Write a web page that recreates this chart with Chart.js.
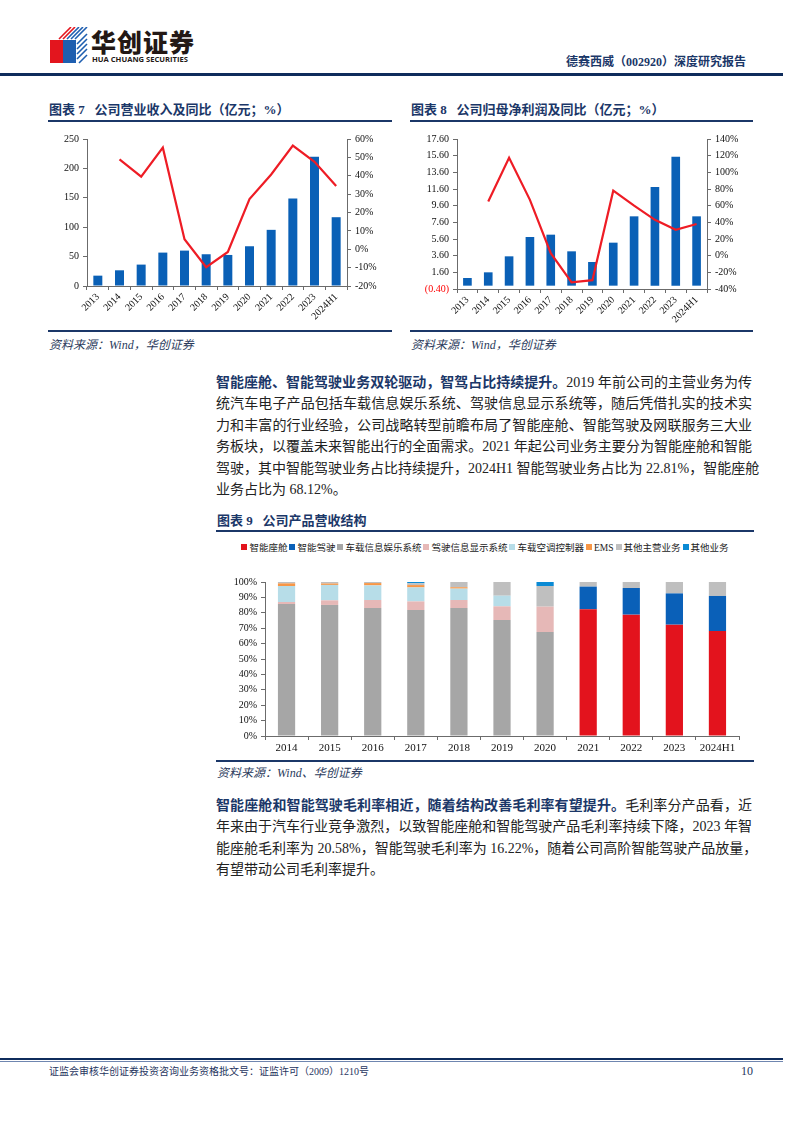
<!DOCTYPE html>
<html>
<head>
<meta charset="utf-8">
<script src="https://cdn.jsdelivr.net/npm/chart.js@4.4.1/dist/chart.umd.min.js"></script>
<style>
  html, body { margin: 0; padding: 0; background: #fff; }
  body { width: 794px; height: 1123px; position: relative; overflow: hidden;
         font-family: "Liberation Serif", "Noto Sans CJK SC", serif; color: #222; }
  .abs { position: absolute; }
  .navy { color: #1b3768; }
  .rule { position: absolute; background: #1b3768; }
  .ctitle { position: absolute; font-size: 13px; font-weight: bold; color: #1b3768; line-height: 16px;
            white-space: nowrap; font-family: "Liberation Serif", "Noto Sans CJK SC", serif; }
  .src { position: absolute; font-size: 12px; font-style: italic; color: #2b3b5c; line-height: 14px; white-space: nowrap; }
  .para { position: absolute; left: 216px; width: 536px; font-size: 14px; line-height: 21.4px; color: #222; }
  .para div { white-space: nowrap; text-align: justify; text-align-last: justify; }
  .para div.last { text-align-last: left; }
  .para b { color: #1b3768; }
  canvas { position: absolute; }
  #legend9 { position: absolute; left: 215px; top: 541px; width: 540px; text-align: center; font-size: 9.5px;
             line-height: 14px; white-space: nowrap; color: #222; }
  #legend9 span.it { margin: 0 1px; }
  #legend9 i { display: inline-block; width: 6px; height: 6px; margin-right: 2px; vertical-align: 1px; }
</style>
</head>
<body>

<!-- header -->
<svg class="abs" style="left:49px;top:27px" width="40" height="37" viewBox="0 0 40 37">
  <rect x="1" y="13" width="13" height="23" fill="#e3151e"/>
  <rect x="14" y="13" width="13" height="23" fill="#1f5fb0"/>
  <g stroke-width="1.6">
    <line x1="10" y1="12" x2="22" y2="0" stroke="#e3151e"/>
    <line x1="14" y1="12" x2="26" y2="0" stroke="#e3151e"/>
    <line x1="18" y1="12" x2="30" y2="0" stroke="#1f5fb0"/>
    <line x1="22" y1="12" x2="34" y2="0" stroke="#1f5fb0"/>
    <line x1="26" y1="12" x2="38" y2="0" stroke="#1f5fb0"/>
    <line x1="28" y1="17" x2="38" y2="7" stroke="#1f5fb0"/>
    <line x1="28" y1="22" x2="38" y2="12" stroke="#1f5fb0"/>
    <line x1="28" y1="27" x2="38" y2="17" stroke="#1f5fb0"/>
    <line x1="28" y1="32" x2="38" y2="22" stroke="#1f5fb0"/>
    <line x1="30" y1="36" x2="38" y2="28" stroke="#1f5fb0"/>
  </g>
</svg>
<div class="abs" style="left:91px;top:26px;font-size:25px;font-weight:900;color:#231815;font-family:'Noto Sans CJK SC';letter-spacing:1px;line-height:30px">华创证券</div>
<div class="abs" style="left:92px;top:55px;font-size:7.6px;font-weight:bold;color:#231815;font-family:'Open Sans','Liberation Sans',sans-serif;line-height:9px">HUA CHUANG SECURITIES</div>
<div class="abs navy" style="right:48px;top:54px;font-size:12px;font-weight:bold;line-height:16px;white-space:nowrap">德赛西威（002920）深度研究报告</div>
<div class="rule" style="left:0;top:73px;width:783px;height:3px;background:#0f2c5c"></div>

<!-- chart 7 -->
<div class="ctitle" style="left:49px;top:102px">图表 7&nbsp;&nbsp;&nbsp;公司营业收入及同比（亿元；%）</div>
<div class="rule" style="left:48px;top:120px;width:344px;height:2px"></div>
<canvas id="c7" width="350" height="205" style="left:44px;top:125px;width:350px;height:205px"></canvas>
<div class="rule" style="left:48px;top:330px;width:344px;height:2px"></div>
<div class="src" style="left:49px;top:338px">资料来源：Wind，华创证券</div>

<!-- chart 8 -->
<div class="ctitle" style="left:411px;top:102px">图表 8&nbsp;&nbsp;&nbsp;公司归母净利润及同比（亿元；%）</div>
<div class="rule" style="left:410px;top:120px;width:343px;height:2px"></div>
<canvas id="c8" width="350" height="205" style="left:405px;top:125px;width:350px;height:205px"></canvas>
<div class="rule" style="left:410px;top:330px;width:343px;height:2px"></div>
<div class="src" style="left:411px;top:338px">资料来源：Wind，华创证券</div>

<!-- paragraph 1 -->
<div class="para" style="top:372px">
  <div><b>智能座舱、智能驾驶业务双轮驱动，智驾占比持续提升。</b>2019 年前公司的主营业务为传</div>
  <div>统汽车电子产品包括车载信息娱乐系统、驾驶信息显示系统等，随后凭借扎实的技术实</div>
  <div>力和丰富的行业经验，公司战略转型前瞻布局了智能座舱、智能驾驶及网联服务三大业</div>
  <div>务板块，以覆盖未来智能出行的全面需求。2021 年起公司业务主要分为智能座舱和智能</div>
  <div>驾驶，其中智能驾驶业务占比持续提升，2024H1 智能驾驶业务占比为 22.81%，智能座舱</div>
  <div class="last">业务占比为 68.12%。</div>
</div>

<!-- chart 9 -->
<div class="ctitle" style="left:217px;top:513px">图表 9&nbsp;&nbsp;&nbsp;公司产品营收结构</div>
<div class="rule" style="left:216px;top:530px;width:538px;height:2px"></div>
<div id="legend9"></div>
<canvas id="c9" width="540" height="188" style="left:215px;top:572px;width:540px;height:188px"></canvas>
<div class="rule" style="left:216px;top:760px;width:538px;height:1.5px"></div>
<div class="src" style="left:217px;top:766px">资料来源：Wind、华创证券</div>

<!-- paragraph 2 -->
<div class="para" style="top:795px">
  <div><b>智能座舱和智能驾驶毛利率相近，随着结构改善毛利率有望提升。</b>毛利率分产品看，近</div>
  <div>年来由于汽车行业竞争激烈，以致智能座舱和智能驾驶产品毛利率持续下降，2023 年智</div>
  <div>能座舱毛利率为 20.58%，智能驾驶毛利率为 16.22%，随着公司高阶智能驾驶产品放量，</div>
  <div class="last">有望带动公司毛利率提升。</div>
</div>

<!-- footer -->
<div class="rule" style="left:0;top:1058px;width:783px;height:2px;background:#0f2c5c"></div>
<div class="rule" style="left:0;top:1061px;width:783px;height:1px;background:#6f86b0"></div>
<div class="abs navy" style="left:49px;top:1065px;font-size:10px;line-height:14px;white-space:nowrap;color:#1f3560">证监会审核华创证券投资咨询业务资格批文号：证监许可（2009）1210号</div>
<div class="abs" style="left:741px;top:1064px;font-size:12px;line-height:14px;color:#1f3560">10</div>

<script>
// ---- data: 图表7 营业收入(亿元) 及同比(%)
const years = ['2013', '2014', '2015', '2016', '2017', '2018', '2019', '2020', '2021', '2022', '2023', '2024H1'];
const revenue = [17.6, 26.7, 36.4, 56.8, 60.2, 54.0, 52.8, 67.6, 95.5, 148.9, 219.9, 117.0];
const revenueYoY = [null, 48.9, 39.5, 55.3, 5.5, -9.8, -1.5, 27.3, 40.7, 56.4, 47.6, 34.4];

// ---- data: 图表8 归母净利润(亿元) 及同比(%)
const netProfit = [0.92, 1.60, 3.52, 5.84, 6.12, 4.12, 2.84, 5.16, 8.32, 11.84, 15.48, 8.32];
const netProfitYoY = [null, 65, 117.6, 67, 3, -32, -29.4, 78, 60, 43, 31, 38];
const profitTicks = [-0.4, 1.6, 3.6, 5.6, 7.6, 9.6, 11.6, 13.6, 15.6, 17.6];

// ---- data: 图表9 产品营收结构 (%)
const years9 = ['2014', '2015', '2016', '2017', '2018', '2019', '2020', '2021', '2022', '2023', '2024H1'];
const cockpit      = [0, 0, 0, 0, 0, 0, 0, 82.3, 78.8, 72.3, 68.12];
const adas         = [0, 0, 0, 0, 0, 0, 0, 14.7, 17.3, 20.3, 22.81];
const infotainment = [85.7, 85.1, 83.1, 81.8, 83.1, 75.3, 67.5, 0, 0, 0, 0];
const clusterDisp  = [1.3, 3.0, 5.2, 5.6, 5.2, 8.9, 16.5, 0, 0, 0, 0];
const climateCtrl  = [10.4, 10.0, 9.5, 9.1, 7.4, 6.9, 0, 0, 0, 0, 0];
const ems          = [1.7, 0.9, 1.5, 1.5, 0.9, 0, 0, 0, 0, 0, 0];
const otherMain    = [0.9, 1.0, 0.7, 1.2, 3.4, 8.9, 13.4, 3.0, 3.9, 7.4, 9.07];
const otherBiz     = [0, 0, 0, 0.8, 0, 0, 2.6, 0, 0, 0, 0];

const FONT = '"Liberation Serif", "Noto Sans CJK SC", serif';
Chart.defaults.font.family = FONT;
Chart.defaults.font.size = 10;
Chart.defaults.color = '#111';
Chart.defaults.animation = false;

const BAR_BLUE = '#0a60b6';
const LINE_RED = '#ee1c25';
const AXIS = '#6b6b6b';

// common axis style: only axis lines and outside tick marks
function axisGrid() {
    return { drawOnChartArea: false, drawTicks: true, tickLength: 4, color: AXIS, lineWidth: 1 };
}
function fixWidth(w) { return s => { s.width = w; }; }
function fixHeight(h) { return s => { s.height = h; }; }

/**
 * bar + line dual axis chart
 */
function dualChart(id, bars, line, left, right, dims) {
    const ctx = document.getElementById(id).getContext('2d');
    return new Chart(ctx, {
        type: 'bar',
        data: {
            labels: years,
            datasets: [
                { type: 'line', data: line, yAxisID: 'y1', borderColor: LINE_RED, borderWidth: 2.2,
                  pointRadius: 0, tension: 0, order: 0 },
                { type: 'bar', data: bars, yAxisID: 'y', backgroundColor: BAR_BLUE,
                  barPercentage: 0.83, categoryPercentage: 0.5, order: 1 }
            ]
        },
        options: {
            responsive: false,
            layout: { padding: { top: dims.top } },
            plugins: { legend: { display: false }, tooltip: { enabled: false } },
            scales: {
                x: {
                    grid: axisGrid(),
                    border: { color: AXIS },
                    ticks: { minRotation: 45, maxRotation: 45, padding: 1, autoSkip: false },
                    afterFit: fixHeight(dims.xh)
                },
                y: Object.assign({ position: 'left', grid: axisGrid(), border: { color: AXIS },
                    afterFit: fixWidth(dims.lw) }, left),
                y1: Object.assign({ position: 'right', grid: axisGrid(), border: { color: AXIS },
                    afterFit: fixWidth(dims.rw) }, right)
            }
        }
    });
}

dualChart('c7', revenue, revenueYoY,
    { min: 0, max: 250, ticks: { stepSize: 50, padding: 4 } },
    { min: -20, max: 60, ticks: { stepSize: 10, padding: 4, callback: v => v + '%' } },
    { top: 14, xh: 44, lw: 43, rw: 47 });

dualChart('c8', netProfit, netProfitYoY,
    { min: -0.4, max: 17.6,
      afterBuildTicks: s => { s.ticks = profitTicks.map(v => ({ value: v })); },
      ticks: { padding: 4,
               color: c => (c.tick && c.tick.value < 0) ? '#ff0000' : '#111',
               callback: v => v < 0 ? '(' + Math.abs(v).toFixed(2) + ')' : v.toFixed(2) } },
    { min: -40, max: 140, ticks: { stepSize: 20, padding: 4, callback: v => v + '%' } },
    { top: 14, xh: 41, lw: 52, rw: 48 });

// ---- chart 9
const series9 = [
    { label: '智能座舱', data: cockpit, color: '#e3131d' },
    { label: '智能驾驶', data: adas, color: '#0a60b8' },
    { label: '车载信息娱乐系统', data: infotainment, color: '#a6a6a6' },
    { label: '驾驶信息显示系统', data: clusterDisp, color: '#e6b8b7' },
    { label: '车载空调控制器', data: climateCtrl, color: '#b7dde8' },
    { label: 'EMS', data: ems, color: '#f79646' },
    { label: '其他主营业务', data: otherMain, color: '#bfbfbf' },
    { label: '其他业务', data: otherBiz, color: '#0a8ad4' }
];

document.getElementById('legend9').innerHTML = series9.map(s =>
    `<span class="it"><i style="background:${s.color}"></i>${s.label}</span>`).join('');

new Chart(document.getElementById('c9').getContext('2d'), {
    type: 'bar',
    data: {
        labels: years9,
        datasets: series9.map(s => ({
            label: s.label, data: s.data, backgroundColor: s.color,
            barPercentage: 0.8, categoryPercentage: 0.5
        }))
    },
    options: {
        responsive: false,
        layout: { padding: { top: 9, right: 16 } },
        plugins: { legend: { display: false }, tooltip: { enabled: false } },
        scales: {
            x: { stacked: true, grid: axisGrid(), border: { color: AXIS },
                 ticks: { font: { size: 11 }, padding: 2, maxRotation: 0 },
                 afterFit: fixHeight(24) },
            y: { stacked: true, min: 0, max: 100, grid: axisGrid(), border: { color: AXIS },
                 ticks: { stepSize: 10, padding: 4, callback: v => v + '%' },
                 afterFit: fixWidth(50) }
        }
    }
});
</script>
</body>
</html>
